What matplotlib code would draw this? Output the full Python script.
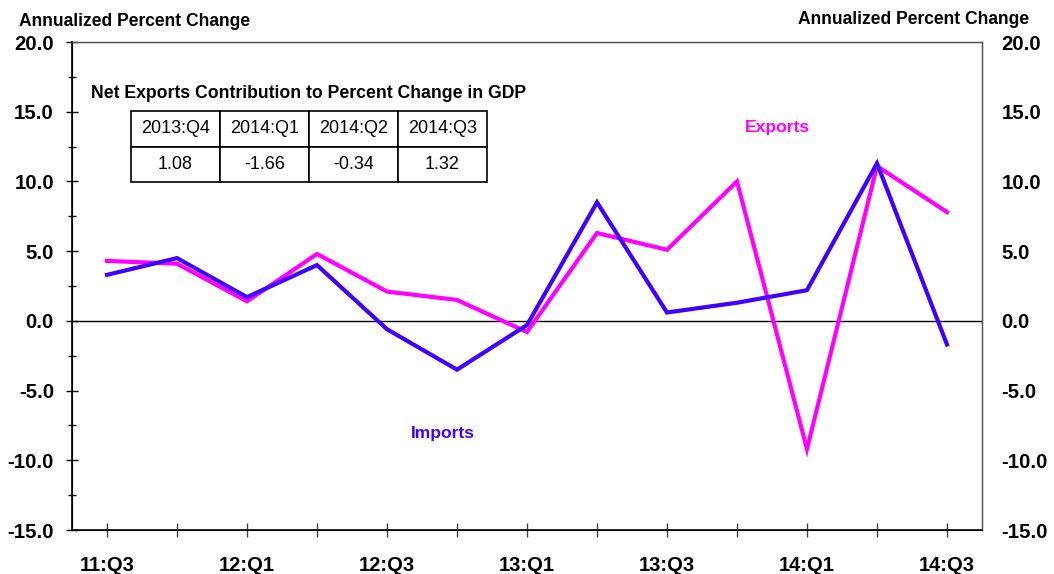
import matplotlib
matplotlib.use("Agg")
import matplotlib.pyplot as plt
from matplotlib.ticker import MultipleLocator, FormatStrFormatter

plt.rcParams['font.family'] = ['Liberation Sans', 'DejaVu Sans']

quarters = ["11:Q3", "11:Q4", "12:Q1", "12:Q2", "12:Q3", "12:Q4", "13:Q1",
            "13:Q2", "13:Q3", "13:Q4", "14:Q1", "14:Q2", "14:Q3"]
exports = [4.3, 4.1, 1.4, 4.8, 2.1, 1.5, -0.8, 6.3, 5.1, 10.0, -9.2, 11.1, 7.8]
imports = [3.3, 4.5, 1.7, 4.0, -0.6, -3.5, -0.3, 8.5, 0.6, 1.3, 2.2, 11.3, -1.7]

table_cols = ["2013:Q4", "2014:Q1", "2014:Q2", "2014:Q3"]
table_vals = ["1.08", "-1.66", "-0.34", "1.32"]

EXP_C = "#FF00FF"
IMP_C = "#4000FF"

fig = plt.figure(figsize=(10.54, 5.74), dpi=100)
ax = fig.add_axes([72/1054, 1-530/574, (982-72)/1054, (530-42)/574])

x = list(range(len(quarters)))
ax.axhline(0, color="black", lw=1.0, zorder=1)
ax.plot(x, exports, color=EXP_C, lw=3.0, zorder=3, solid_joinstyle="miter")
ax.plot(x, imports, color=IMP_C, lw=3.0, zorder=4, solid_joinstyle="miter")

ax.set_xlim(-0.5, 12.5)
ax.set_ylim(-15, 20)
ax.yaxis.set_major_locator(MultipleLocator(5))
ax.yaxis.set_minor_locator(MultipleLocator(2.5))
ax.yaxis.set_major_formatter(FormatStrFormatter("%.1f"))
ax.tick_params(axis="y", which="major", direction="inout", length=8, width=1,
               labelsize=14.7, pad=9)
ax.tick_params(axis="y", which="minor", direction="inout", length=6, width=1)
for lab in ax.get_yticklabels():
    lab.set_fontweight("bold")

ax.set_xticks(x)
ax.set_xticklabels([q if i % 2 == 0 else "" for i, q in enumerate(quarters)],
                   fontweight="bold", fontsize=14.5)
ax.tick_params(axis="x", direction="inout", length=9.5, width=1, pad=14, color="#444444")

for side in ["top", "right"]:
    ax.spines[side].set_color("#555555")
    ax.spines[side].set_linewidth(1.0)
ax.spines["left"].set_linewidth(1.2)
ax.spines["bottom"].set_linewidth(1.2)

ax2 = ax.twinx()
ax2.set_ylim(-15, 20)
ax2.yaxis.set_major_locator(MultipleLocator(5))
ax2.yaxis.set_major_formatter(FormatStrFormatter("%.1f"))
ax2.tick_params(axis="y", length=0, labelsize=14.7, pad=14)
for lab in ax2.get_yticklabels():
    lab.set_fontweight("bold")
for side in ["top", "right"]:
    ax2.spines[side].set_color("#555555")

fig.text(19/1054, 1-21.5/574, "Annualized Percent Change", fontsize=12.65,
         fontweight="bold", ha="left", va="center")
fig.text(1029/1054, 1-19/574, "Annualized Percent Change", fontsize=12.65,
         fontweight="bold", ha="right", va="center")

ax.text(9.58, 13.9, "Exports", color=EXP_C, fontsize=12.6, fontweight="bold",
        ha="center", va="center")
ax.text(4.80, -8.08, "Imports", color=IMP_C, fontsize=12.6, fontweight="bold",
        ha="center", va="center")

# table
fig.text(91/1054, 1-93/574, "Net Exports Contribution to Percent Change in GDP",
         fontsize=12.7, fontweight="bold", ha="left", va="center")
tbl = ax.table(cellText=[table_cols, table_vals], cellLoc="center",
               bbox=[(131-72)/910, (530-182)/488, (487-131)/910, (182-111)/488])
tbl.auto_set_font_size(False)
tbl.set_fontsize(13)
for (r, c), cell in tbl.get_celld().items():
    cell.set_linewidth(1.2)
    cell.set_edgecolor("black")

fig.savefig("out.png", dpi=100)
